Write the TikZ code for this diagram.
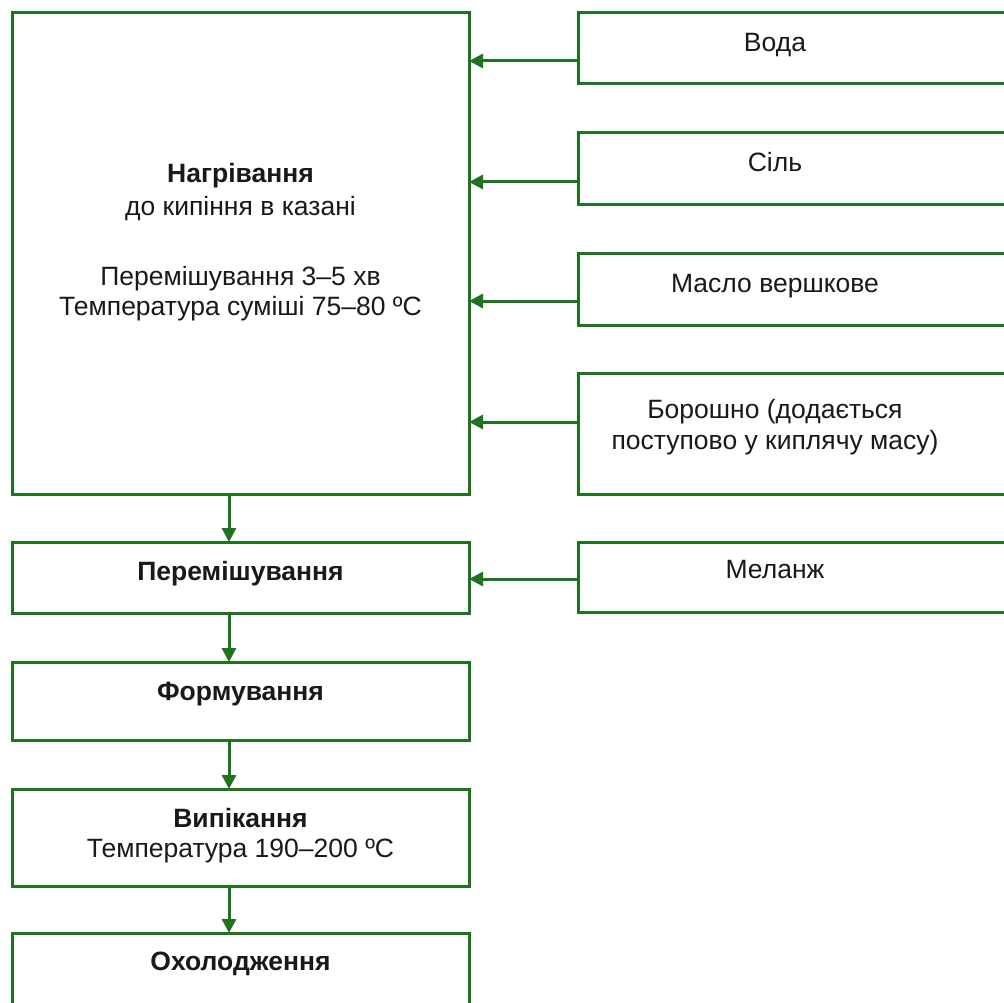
\documentclass[tikz,border=0pt]{standalone}
\usepackage{fontspec}
\setmainfont{Liberation Sans}
\usetikzlibrary{arrows.meta}
\definecolor{boxgreen}{RGB}{30,115,30}
\definecolor{txtcol}{RGB}{25,25,25}
\begin{document}
\begin{tikzpicture}[x=1pt,y=-1pt,
  box/.style={draw=boxgreen, line width=3pt, rectangle, inner sep=0pt, outer sep=0pt, anchor=north west},
  lbl/.style={text=txtcol, font=\fontsize{26.5}{31}\selectfont, anchor=base, inner sep=0pt},
  arr/.style={draw=boxgreen, line width=3pt, -{Triangle[length=14pt,width=14pt]}}
]
\useasboundingbox (0,0) rectangle (1004,1003);
\fill[white] (0,0) rectangle (1004,1003);
\clip (0,0) rectangle (1004,1003);

% left column boxes
\node[box, minimum width=456.5pt, minimum height=481pt] (heat) at (12.5,13) {};
\node[box, minimum width=456.5pt, minimum height=71pt] (mix) at (12.5,542) {};
\node[box, minimum width=456.5pt, minimum height=78pt] (form) at (12.5,662) {};
\node[box, minimum width=456.5pt, minimum height=97pt] (bake) at (12.5,789) {};
\node[box, minimum width=456.5pt, minimum height=85pt] (cool) at (12.5,933) {};

% right column boxes
\node[box, minimum width=440pt, minimum height=71pt] (voda) at (578,13) {};
\node[box, minimum width=440pt, minimum height=72pt] (sil) at (578,133) {};
\node[box, minimum width=440pt, minimum height=72pt] (maslo) at (578,253) {};
\node[box, minimum width=440pt, minimum height=121pt] (boro) at (578,373) {};
\node[box, minimum width=440pt, minimum height=70pt] (melan) at (578,542) {};

% texts in left column
\node[lbl] (t1) at (240.5,183) {\textbf{Нагрівання}};
\node[lbl] (t2) at (240.5,216) {до кипіння в казані};
\node[lbl] (t3) at (240.5,285) {Перемішування 3–5 хв};
\node[lbl] (t4) at (240.5,315) {Температура суміші 75–80 ºC};
\node[lbl] (t5) at (240.5,580) {\textbf{Перемішування}};
\node[lbl] (t6) at (240.5,700) {\textbf{Формування}};
\node[lbl] (t7) at (240.5,827) {\textbf{Випікання}};
\node[lbl] (t8) at (240.5,857) {Температура 190–200 ºC};
\node[lbl] (t9) at (240.5,970) {\textbf{Охолодження}};

% texts in right column
\node[lbl] (r1) at (775,52) {Вода};
\node[lbl] (r2) at (775,172) {Сіль};
\node[lbl] (r3) at (775,292) {Масло вершкове};
\node[lbl] (r4) at (775,418) {Борошно (додається};
\node[lbl] (r5) at (775,449) {поступово у киплячу масу)};
\node[lbl] (r6) at (775,578) {Меланж};

% horizontal arrows
\draw[arr] (voda.west |- 0,61) -- (heat.east |- 0,61);
\draw[arr] (sil.west |- 0,182) -- (heat.east |- 0,182);
\draw[arr] (maslo.west |- 0,301) -- (heat.east |- 0,301);
\draw[arr] (boro.west |- 0,422) -- (heat.east |- 0,422);
\draw[arr] (melan.west |- 0,579) -- (mix.east |- 0,579);

% vertical arrows
\draw[arr] (heat.south -| 229,0) -- (mix.north -| 229,0);
\draw[arr] (mix.south -| 229,0) -- (form.north -| 229,0);
\draw[arr] (form.south -| 229,0) -- (bake.north -| 229,0);
\draw[arr] (bake.south -| 229,0) -- (cool.north -| 229,0);
\end{tikzpicture}
\end{document}
